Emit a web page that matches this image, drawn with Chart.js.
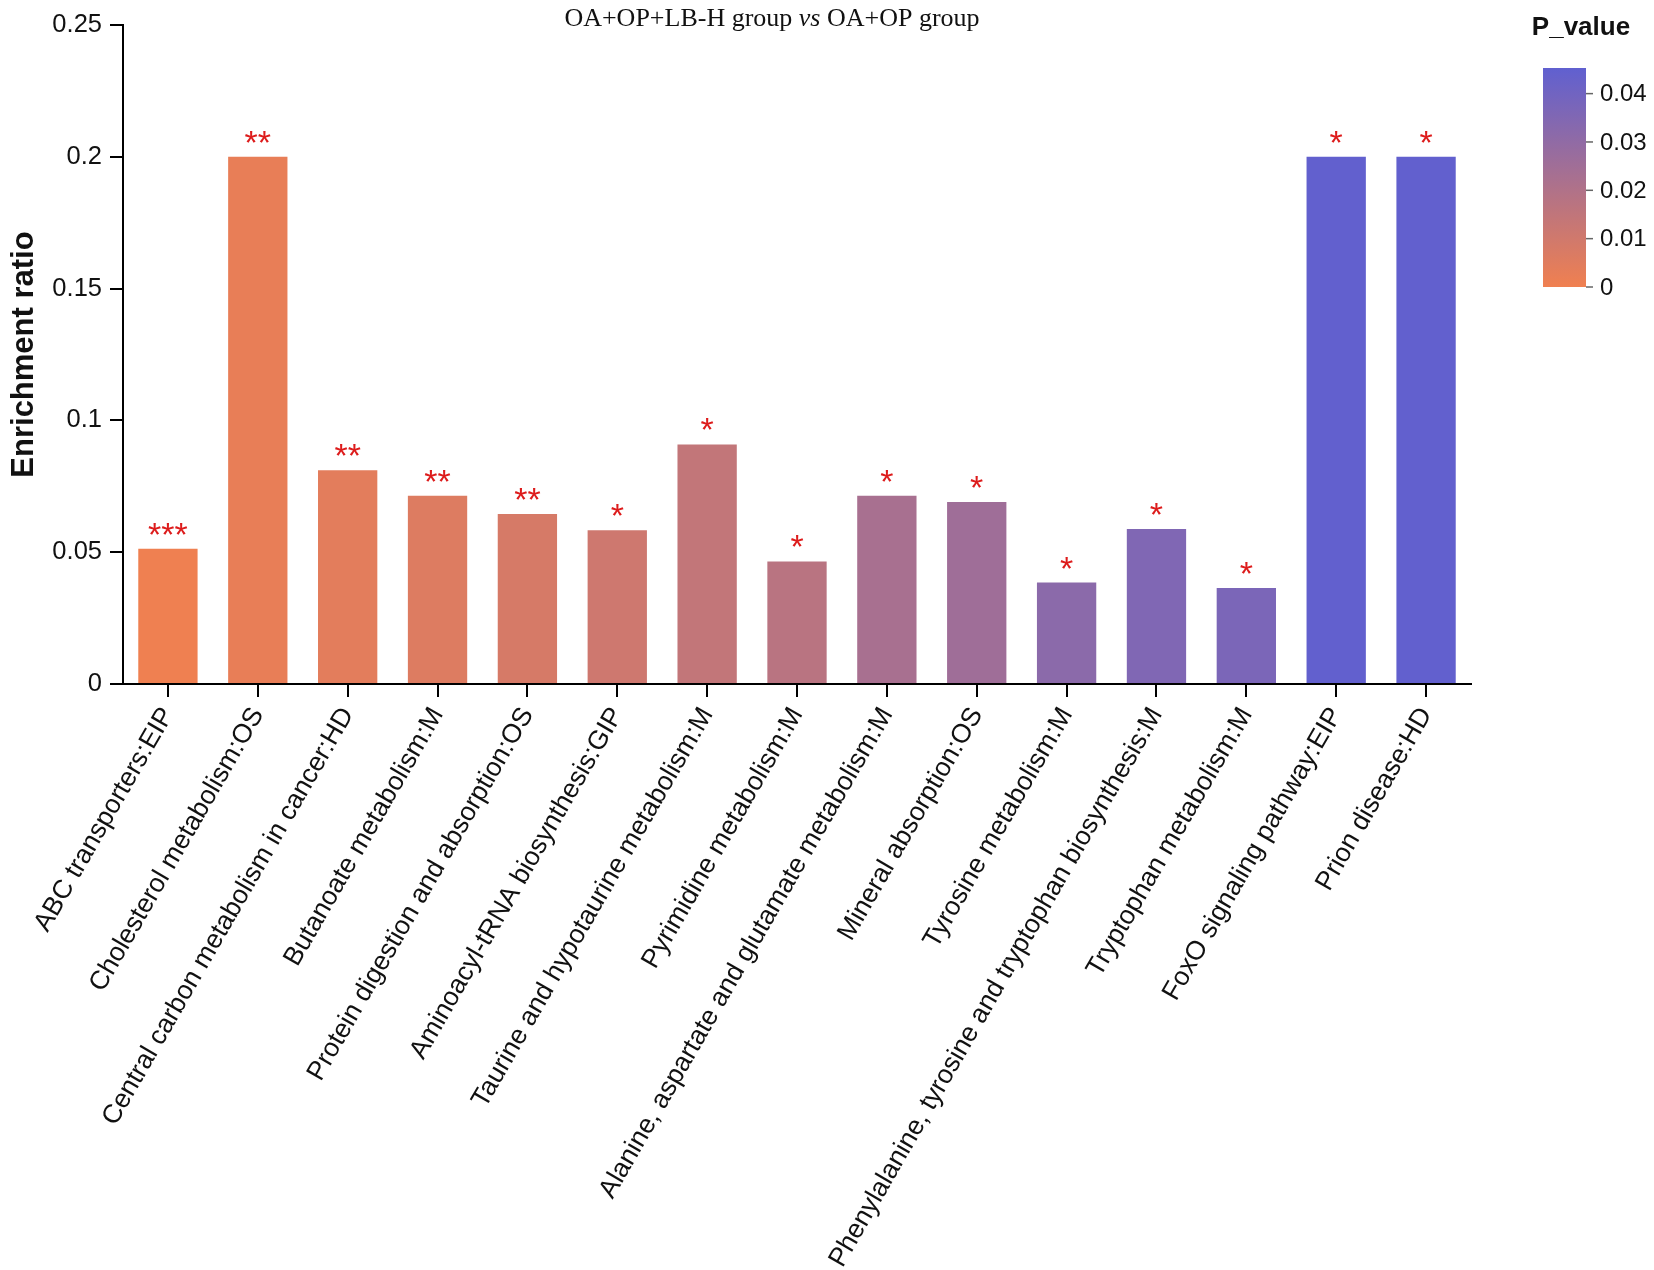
<!DOCTYPE html>
<html>
<head>
<meta charset="utf-8">
<script src="https://cdn.jsdelivr.net/npm/chart.js@4.4.0/dist/chart.umd.min.js"></script>
<style>
body{margin:0;background:#fff}
</style>
</head>
<body>
<canvas id="grafEnriquecimiento" width="1654" height="1270"></canvas>
<script>
// datos
const pathways = [
    'ABC transporters:EIP',
    'Cholesterol metabolism:OS',
    'Central carbon metabolism in cancer:HD',
    'Butanoate metabolism:M',
    'Protein digestion and absorption:OS',
    'Aminoacyl-tRNA biosynthesis:GIP',
    'Taurine and hypotaurine metabolism:M',
    'Pyrimidine metabolism:M',
    'Alanine, aspartate and glutamate metabolism:M',
    'Mineral absorption:OS',
    'Tyrosine metabolism:M',
    'Phenylalanine, tyrosine and tryptophan biosynthesis:M',
    'Tryptophan metabolism:M',
    'FoxO signaling pathway:EIP',
    'Prion disease:HD'
]
const enrichmentRatio = [0.0513, 0.2, 0.0811, 0.0714, 0.0645, 0.0583, 0.0909, 0.0465, 0.0714, 0.069, 0.0385, 0.0588, 0.0364, 0.2, 0.2]
const pValues = [0.0004, 0.0025, 0.0041, 0.0059, 0.0082, 0.0108, 0.0145, 0.0172, 0.0227, 0.0254, 0.0317, 0.0353, 0.0369, 0.0446, 0.0446]
const legendTicks = [0, 0.01, 0.02, 0.03, 0.04]
const pMax = 0.0453

const colorLow = [240, 128, 80]
const colorHigh = [96, 96, 208]

function colorForP(p) {
    let t = Math.max(0, Math.min(1, p / pMax))
    let c = colorLow.map((v, i) => Math.round(v + (colorHigh[i] - v) * t))
    return `rgb(${c[0]},${c[1]},${c[2]})`
}

function stars(p) {
    if (p < 0.001) return '***'
    if (p < 0.01) return '**'
    if (p < 0.05) return '*'
    return ''
}

const sans = '"Liberation Sans", Arial, sans-serif'
const serif = '"Liberation Serif", "Times New Roman", serif'

const extras = {
    id: 'extras',
    afterDraw(chart) {
        const ctx = chart.ctx
        ctx.save()

        // titulo con "vs" en cursiva
        let partes = [
            {t: 'OA+OP+LB-H group ', f: `26px ${serif}`},
            {t: 'vs', f: `italic 26px ${serif}`},
            {t: ' OA+OP group', f: `26px ${serif}`}
        ]
        let total = 0
        partes.forEach(p => { ctx.font = p.f; p.w = ctx.measureText(p.t).width; total += p.w })
        let x = 772 - total / 2
        ctx.fillStyle = '#111'
        ctx.textBaseline = 'alphabetic'
        ctx.textAlign = 'left'
        partes.forEach(p => { ctx.font = p.f; ctx.fillText(p.t, x, 26); x += p.w })

        // asteriscos sobre cada barra
        const meta = chart.getDatasetMeta(0)
        ctx.font = `34px ${sans}`
        ctx.fillStyle = '#DD1C1C'
        ctx.textAlign = 'center'
        let m = ctx.measureText('*')
        let off = (m.actualBoundingBoxAscent - m.actualBoundingBoxDescent) / 2
        meta.data.forEach((bar, i) => {
            ctx.fillText(stars(pValues[i]), bar.x, bar.y - 20 + off)
        })

        // barra de color
        const bx = 1543, bw = 43, btop = 68, bbot = 287
        let grad = ctx.createLinearGradient(0, bbot, 0, btop)
        grad.addColorStop(0, colorForP(0))
        grad.addColorStop(1, colorForP(pMax))
        ctx.fillStyle = grad
        ctx.fillRect(bx, btop, bw, bbot - btop)

        ctx.font = `bold 26px ${sans}`
        ctx.fillStyle = '#111'
        ctx.textAlign = 'center'
        ctx.fillText('P_value', 1581, 35)

        ctx.font = `24px ${sans}`
        ctx.textAlign = 'left'
        ctx.textBaseline = 'middle'
        ctx.strokeStyle = '#666'
        ctx.lineWidth = 1.5
        legendTicks.forEach(v => {
            let y = bbot - (v / pMax) * (bbot - btop)
            ctx.beginPath()
            ctx.moveTo(bx + bw, y)
            ctx.lineTo(bx + bw + 7, y)
            ctx.stroke()
            ctx.fillStyle = '#111'
            ctx.fillText(String(v), bx + bw + 14, y + 1)
        })
        ctx.restore()
    }
}

let grafEnriquecimiento = new Chart(document.getElementById('grafEnriquecimiento'), {
    type: 'bar',
    data: {
        labels: pathways,
        datasets: [{
            data: enrichmentRatio,
            backgroundColor: pValues.map(colorForP),
            categoryPercentage: 1,
            barPercentage: 0.66
        }]
    },
    options: {
        responsive: false,
        animation: false,
        devicePixelRatio: 1,
        layout: {padding: {left: 0, right: 183, top: 25, bottom: 0}},
        plugins: {legend: {display: false}, tooltip: {enabled: false}},
        scales: {
            x: {
                grid: {display: true, drawOnChartArea: false, offset: false, color: '#000', lineWidth: 2, tickLength: 13},
                border: {color: '#000', width: 2},
                ticks: {
                    autoSkip: false, minRotation: 60, maxRotation: 60, padding: 5,
                    color: '#111', font: {family: sans, size: 26.5}
                },
                afterFit: s => { s.height = 586 }
            },
            y: {
                min: 0, max: 0.25,
                grid: {display: true, drawOnChartArea: false, color: '#000', lineWidth: 2, tickLength: 13},
                border: {color: '#000', width: 2},
                ticks: {
                    stepSize: 0.05, padding: 8, color: '#111',
                    font: {family: sans, size: 25.5},
                    callback: v => String(+Number(v).toFixed(2))
                },
                title: {
                    display: true, text: 'Enrichment ratio', color: '#111',
                    font: {family: sans, size: 31, weight: 'bold'},
                    padding: {top: 6, bottom: 0}
                },
                afterFit: s => { s.width = 123 }
            }
        }
    },
    plugins: [extras]
})
</script>
</body>
</html>
